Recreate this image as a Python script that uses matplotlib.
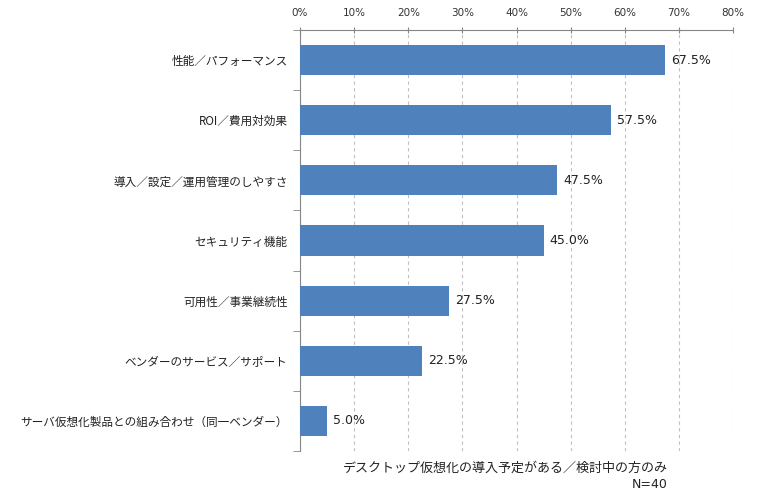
import matplotlib
matplotlib.use("Agg")
import matplotlib.pyplot as plt
from matplotlib.ticker import FixedLocator, NullFormatter
import numpy as np

plt.rcParams['font.family'] = ['Noto Sans CJK JP', 'DejaVu Sans']

categories = ["性能／パフォーマンス", "ROI／費用対効果", "導入／設定／運用管理のしやすさ",
              "セキュリティ機能", "可用性／事業継続性", "ベンダーのサービス／サポート",
              "サーバ仮想化製品との組み合わせ（同一ベンダー）"]
values = [67.5, 57.5, 47.5, 45.0, 27.5, 22.5, 5.0]
xticks = [0, 10, 20, 30, 40, 50, 60, 70, 80]
xtick_labels = ["0%", "10%", "20%", "30%", "40%", "50%", "60%", "70%", "80%"]
note = "デスクトップ仮想化の導入予定がある／検討中の方のみ"
n_label = "N=40"

fig = plt.figure(figsize=(7.67, 4.95), dpi=100)
ax = fig.add_axes([300/767, 1-451/495, 433/767, 421/495])

y = np.arange(len(categories))
ax.barh(y, values, height=0.5, color="#4F81BD", zorder=3)
ax.set_ylim(len(categories)-0.5, -0.5)
ax.set_xlim(0, 80)

ax.xaxis.tick_top()
ax.set_xticks(xticks)
ax.set_xticklabels(xtick_labels, fontsize=7.5, color="#333333", family=['DejaVu Sans'])
ax.tick_params(axis='x', direction='inout', length=5, color="#868686", pad=6)
ax.grid(axis='x', linestyle=(0, (3, 3)), color="#BFBFBF", linewidth=0.8, zorder=0)

ax.set_yticks(y)
ax.set_yticklabels(categories, fontsize=8.4, color="#222222")
ax.tick_params(axis='y', length=0, pad=9)
ax.yaxis.set_minor_locator(FixedLocator(np.arange(-0.5, len(categories), 1.0)))
ax.yaxis.set_minor_formatter(NullFormatter())
ax.tick_params(axis='y', which='minor', length=5, color="#868686", direction='out')

for s in ['right', 'bottom']:
    ax.spines[s].set_visible(False)
for s in ['left', 'top']:
    ax.spines[s].set_color("#868686")
    ax.spines[s].set_linewidth(0.8)

for yi, v in zip(y, values):
    ax.text(v + 1.1, yi, f"{v:.1f}%", va='center', ha='left', fontsize=9,
            color="#222222", family=['DejaVu Sans'])

fig.text(668/767, 1-468/495, note, ha='right', va='center', fontsize=9.4, color="#222222")
fig.text(668/767, 1-485/495, n_label, ha='right', va='center', fontsize=9,
         color="#222222", family=['DejaVu Sans'])

fig.savefig("out.png", dpi=100)
